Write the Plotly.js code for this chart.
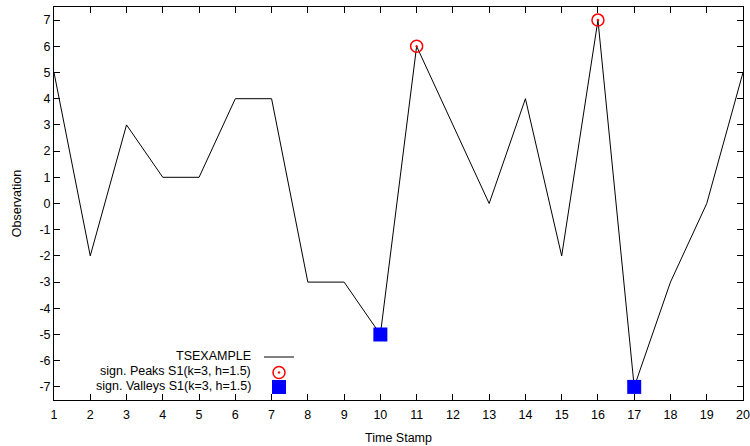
<!DOCTYPE html>
<html>
<head>
<meta charset="utf-8">
<script src="https://cdn.plot.ly/plotly-3.0.1.min.js"></script>
<style>html,body{margin:0;padding:0;background:#fff;}#chart{width:750px;height:446px;}</style>
</head>
<body>
<div id="chart"></div>
<script>
var timeStamps = [1,2,3,4,5,6,7,8,9,10,11,12,13,14,15,16,17,18,19,20];
var observations = [5,-2,3,1,1,4,4,-3,-3,-5,6,3,0,4,-2,7,-7,-3,0,5];
var peakX = [11,16];
var peakY = [6,7];
var valleyX = [10,17];
var valleyY = [-5,-7];
var seriesNames = ["TSEXAMPLE", "sign. Peaks S1(k=3, h=1.5)", "sign. Valleys S1(k=3, h=1.5)"];
var xTicks = timeStamps;
var yTicks = [-7,-6,-5,-4,-3,-2,-1,0,1,2,3,4,5,6,7];

var font = {family: "Liberation Sans, Arial, sans-serif", size: 12.5, color: "#000"};
var legendFont = {family: "Liberation Sans, Arial, sans-serif", size: 12, color: "#000"};

var traces = [
  {x: timeStamps, y: observations, type: "scatter", mode: "lines",
   line: {color: "#000", width: 1}, name: " ", legend: "legend"},
  {x: peakX, y: peakY, type: "scatter", mode: "markers",
   marker: {symbol: "circle-open-dot", size: 12, color: "#ff0000", line: {width: 1.5, color: "#ff0000"}},
   name: " ", legend: "legend2"},
  {x: valleyX, y: valleyY, type: "scatter", mode: "markers",
   marker: {symbol: "square", size: 14, color: "#0000ff", line: {width: 0}},
   name: " ", legend: "legend3"}
];

var rowY = [356, 371.5, 386];
var annotations = seriesNames.map(function(n, i){
  return {xref: "paper", yref: "paper", x: (253-54)/689, y: (400-rowY[i]+0.5)/393,
    xanchor: "right", yanchor: "middle", text: n, showarrow: false, font: font};
});

function legendAt(i){
  return {x: (259-54)/689, y: (400-(rowY[i]-13.5))/393, xanchor: "left", yanchor: "top",
    bgcolor: "rgba(0,0,0,0)", borderwidth: 0, font: legendFont, itemwidth: 30};
}

var layout = {
  width: 750, height: 446,
  margin: {l: 54, r: 7, t: 7, b: 46},
  paper_bgcolor: "#fff", plot_bgcolor: "#fff",
  font: font,
  showlegend: true,
  legend: legendAt(0),
  legend2: legendAt(1),
  legend3: legendAt(2),
  xaxis: {range: [1, 20], tickvals: xTicks, ticktext: xTicks.map(String),
    showgrid: false, zeroline: false, showline: true, linecolor: "#000", linewidth: 1,
    mirror: "ticks", ticks: "inside", ticklen: 6, tickcolor: "#000", tickwidth: 1,
    ticklabelstandoff: 3,
    title: {text: "Time Stamp", font: font, standoff: 12}, tickfont: font, fixedrange: true},
  yaxis: {range: [-7.5, 7.5], tickvals: yTicks, ticktext: yTicks.map(String),
    showgrid: false, zeroline: false, showline: true, linecolor: "#000", linewidth: 1,
    mirror: "ticks", ticks: "inside", ticklen: 6, tickcolor: "#000", tickwidth: 1,
    title: {text: "Observation", font: font, standoff: 15}, tickfont: font, fixedrange: true},
  annotations: annotations
};

Plotly.newPlot("chart", traces, layout, {displayModeBar: false, staticPlot: true});
</script>
</body>
</html>
